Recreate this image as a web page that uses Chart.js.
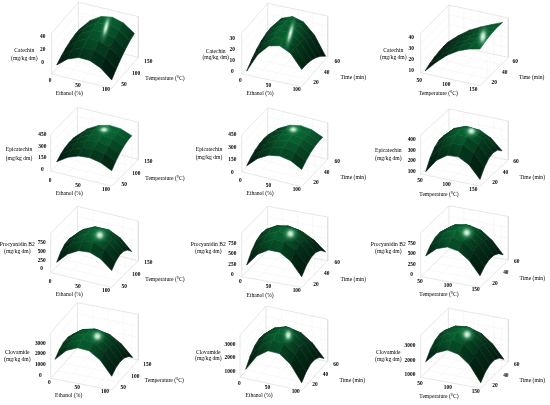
<!DOCTYPE html>
<html>
<head>
<meta charset="utf-8">
<title>Response surfaces</title>
<script src="https://cdn.jsdelivr.net/npm/chart.js@4"></script>
<style>
    html, body { margin: 0; padding: 0; background: #fff; }
    canvas { display: block; filter: blur(0.45px); }
</style>
</head>
<body>
<canvas id="chart" width="550" height="405"></canvas>
<script>
// Rows run front to back along the second factor, columns left to right along the first one.
const catechinEthanolTemp = [
    [-2.4, 11.1, 17.5, 16.9, 9.2, -5.5],
    [3.2, 17.6, 24.8, 24.9, 17.8, 3.5],
    [7.4, 22.7, 30.7, 31.5, 25, 11.2],
    [10.4, 26.6, 35.4, 36.8, 30.8, 17.5],
    [12, 29.1, 38.7, 40.8, 35.4, 22.6],
    [12.2, 30.2, 40.6, 43.4, 38.6, 26.2],
];
const catechinEthanolTime = [
    [1.5, 18.7, 28.6, 31, 26, 13.6],
    [6.6, 22.6, 31.2, 32.6, 26.6, 13.3],
    [10.7, 25.3, 32.8, 33, 26.1, 11.9],
    [13.5, 26.9, 33.1, 32.3, 24.3, 9.3],
    [15.2, 27.2, 32.3, 30.3, 21.4, 5.5],
    [15.7, 26.5, 30.3, 27.3, 17.4, 0.6],
];
const catechinTempTime = [
    [10.9, 20.9, 29.6, 35.7, 39.6, 41.8],
    [13.2, 22.9, 31.2, 37.1, 41.1, 43.7],
    [14.8, 24.2, 32.2, 37.9, 41.9, 44.9],
    [15.8, 24.9, 32.6, 38.1, 42.3, 45.7],
    [16.4, 25.2, 32.6, 37.9, 42.1, 45.9],
    [16.3, 24.8, 31.8, 36.9, 41.2, 45.4],
];
const epicatechinEthanolTemp = [
    [119, 212, 265, 277, 248, 178],
    [163, 262, 321, 337, 312, 245],
    [193, 298, 362, 384, 362, 299],
    [208, 321, 390, 416, 399, 338],
    [210, 329, 403, 435, 421, 364],
    [198, 323, 403, 439, 429, 375],
];
const epicatechinEthanolTime = [
    [98, 217, 289, 312, 289, 217],
    [144, 261, 333, 356, 335, 266],
    [177, 293, 364, 389, 369, 303],
    [198, 312, 383, 408, 390, 326],
    [205, 318, 388, 415, 398, 337],
    [201, 312, 382, 409, 394, 336],
];
const epicatechinTempTime = [
    [109, 238, 306, 312, 257, 140],
    [201, 320, 382, 385, 330, 217],
    [262, 372, 427, 426, 372, 263],
    [292, 393, 441, 438, 384, 278],
    [293, 385, 426, 419, 366, 264],
    [263, 345, 380, 370, 317, 219],
];
const procyanidinEthanolTemp = [
    [233, 550, 723, 751, 636, 377],
    [416, 727, 894, 917, 794, 525],
    [521, 826, 987, 1004, 874, 595],
    [549, 849, 1005, 1016, 877, 590],
    [502, 796, 946, 951, 805, 508],
    [377, 665, 809, 809, 655, 348],
];
const procyanidinEthanolTime = [
    [259, 559, 709, 701, 536, 212],
    [466, 725, 848, 829, 669, 366],
    [598, 815, 912, 882, 726, 443],
    [653, 830, 899, 858, 707, 445],
    [633, 768, 811, 759, 612, 370],
    [536, 630, 646, 583, 441, 220],
];
const procyanidinTempTime = [
    [467, 690, 777, 730, 547, 228],
    [610, 820, 898, 847, 663, 349],
    [690, 887, 956, 902, 716, 406],
    [706, 891, 949, 892, 704, 400],
    [658, 830, 879, 819, 629, 329],
    [547, 706, 746, 682, 491, 196],
];
const clovamideEthanolTemp = [
    [1592, 2612, 3075, 2983, 2303, 1036],
    [2046, 2985, 3393, 3276, 2602, 1378],
    [2282, 3141, 3493, 3352, 2684, 1503],
    [2301, 3080, 3376, 3209, 2548, 1411],
    [2101, 2800, 3040, 2849, 2194, 1100],
    [1685, 2303, 2488, 2272, 1623, 572],
];
const clovamideEthanolTime = [
    [1263, 2405, 2964, 2940, 2332, 1166],
    [1858, 2879, 3365, 3307, 2709, 1591],
    [2237, 3136, 3549, 3457, 2869, 1799],
    [2397, 3175, 3515, 3389, 2810, 1790],
    [2340, 2996, 3263, 3103, 2534, 1562],
    [2065, 2600, 2794, 2600, 2041, 1117],
];
const clovamideTempTime = [
    [1968, 2717, 3035, 2876, 2286, 1219],
    [2498, 3169, 3433, 3256, 2670, 1640],
    [2824, 3419, 3628, 3433, 2851, 1857],
    [2947, 3464, 3619, 3405, 2829, 1871],
    [2865, 3306, 3406, 3174, 2602, 1680],
    [2581, 2944, 2990, 2740, 2172, 1287],
];

const ethanolTicks = [0, 50, 100];
const temperatureTicks = [50, 100, 150];
const timeTicks = [20, 40, 60];
const catechinTicks = [0, 20, 40];
const catechinTimeTicks = [0, 10, 20, 30];
const catechinTempTicks = [10, 20, 30, 40];
const epicatechinTicks = [0, 150, 300, 450];
const epicatechinTempTicks = [100, 200, 300, 400];
const procyanidinTicks = [0, 250, 500, 750];
const clovamideTicks = [0, 1000, 2000, 3000];
const clovamideHighTicks = [1000, 2000, 3000];

const ethanolTitle = 'Ethanol (%)';
const temperatureTitle = 'Temperature (°C)';
const timeTitle = 'Time (min)';
const doseUnit = '(mg/kg dm)';

// Layout of the twelve panels: o/ex/ey/top are the box on the page, k is px per unit, zBase the value on the floor.
const panels = [
    { grid: catechinEthanolTemp, o: [51.7, 74], ex: [60, 14.3], ey: [26.7, -31], top: 33.3, k: 0.64, zBase: -18.3, u0: 0.083, vMax: 0.85,
      zTicks: catechinTicks, zTickX: 42.7, glow: [0.6, 0.72, 5, 19, 0.25],
      xTicks: ethanolTicks, xFrom: [50, 81], xTo: [106, 89.3], xTitle: ethanolTitle, xTitleAt: [69.3, 93.7],
      yTicks: temperatureTicks, yFrom: [124, 85], yTo: [148.3, 62], yTitle: temperatureTitle, yTitleAt: [165, 78.3],
      zTitle: ['Catechin', doseUnit], zTitleAt: [24.3, 51, 58.3] },
    { grid: catechinEthanolTime, o: [241.7, 74], ex: [60, 12.7], ey: [26, -30], top: 33.3, k: 1.1, zBase: -2.1, u0: 0.083, vMax: 0.92,
      zTicks: catechinTimeTicks, zTickX: 232.3, glow: [0.62, 0.4, 4.5, 21, 0.25],
      xTicks: ethanolTicks, xFrom: [240.3, 80.7], xTo: [296.7, 90], xTitle: ethanolTitle, xTitleAt: [260, 94],
      yTicks: timeTicks, yFrom: [316, 83], yTo: [337.3, 62], yTitle: timeTitle, yTitleAt: [353.3, 77.7],
      zTitle: ['Catechin', doseUnit], zTitleAt: [215.7, 51.7, 58] },
    { grid: catechinTempTime, o: [420.7, 72.7], ex: [59.3, 13], ey: [28.3, -28.3], top: 33.3, k: 1.1, zBase: 8.45, u0: 0.073, vMax: 0.8,
      zTicks: catechinTempTicks, zTickX: 411.3, glow: [0.88, 0.42, 7, 14, 0.15],
      xTicks: temperatureTicks, xFrom: [419.3, 80.7], xTo: [473.3, 89.3], xTitle: temperatureTitle, xTitleAt: [438.3, 94],
      yTicks: timeTicks, yFrom: [494.3, 83], yTo: [515.3, 62], yTitle: timeTitle, yTitleAt: [531.7, 77.7],
      zTitle: ['Catechin', doseUnit], zTitleAt: [393.3, 51, 58] },
    { grid: epicatechinEthanolTemp, o: [50.7, 171], ex: [61, 15], ey: [26.7, -26.7], top: 134, k: 0.0763, zBase: -22, u0: 0.098, vMax: 0.75,
      zTicks: epicatechinTicks, zTickX: 42.3, glow: [0.57, 0.8, 9, 6, 0],
      xTicks: ethanolTicks, xFrom: [50, 181], xTo: [106, 189.3], xTitle: ethanolTitle, xTitleAt: [69.3, 194],
      yTicks: temperatureTicks, yFrom: [124.3, 185], yTo: [148.3, 162], yTitle: temperatureTitle, yTitleAt: [165, 178.3],
      zTitle: ['Epicatechin', doseUnit], zTitleAt: [19, 150, 158.3] },
    { grid: epicatechinEthanolTime, o: [241.7, 171.7], ex: [60, 15], ey: [26, -27.3], top: 135, k: 0.084, zBase: 11.9, u0: 0.083, vMax: 0.81,
      zTicks: epicatechinTicks, zTickX: 232.3, glow: [0.54, 0.8, 9, 6.5, 0],
      xTicks: ethanolTicks, xFrom: [240.3, 180.7], xTo: [296.7, 190], xTitle: ethanolTitle, xTitleAt: [260, 194],
      yTicks: timeTicks, yFrom: [316, 183], yTo: [337.3, 162], yTitle: timeTitle, yTitleAt: [353.3, 177.7],
      zTitle: ['Epicatechin', doseUnit], zTitleAt: [209, 150, 157.7] },
    { grid: epicatechinTempTime, o: [420.7, 174], ex: [59.3, 12], ey: [28.3, -26], top: 135, k: 0.1057, zBase: 78, u0: 0.084, vMax: 0.78,
      zTicks: epicatechinTempTicks, zTickX: 411.7, glow: [0.59, 0.62, 9, 8, 0],
      xTicks: temperatureTicks, xFrom: [420, 180.7], xTo: [473.3, 189.3], xTitle: temperatureTitle, xTitleAt: [439, 194.3],
      yTicks: timeTicks, yFrom: [495, 183], yTo: [516, 162], yTitle: timeTitle, yTitleAt: [532.3, 178],
      zTitle: ['Epicatechin', doseUnit], zTitleAt: [388.3, 150.7, 158.3] },
    { grid: procyanidinEthanolTemp, o: [50.7, 272.7], ex: [61, 14.7], ey: [26.7, -26.7], top: 233, k: 0.0347, zBase: -107, u0: 0.098, vMax: 0.75,
      zTicks: procyanidinTicks, zTickX: 41.7, glow: [0.62, 0.45, 9, 9, 0],
      xTicks: ethanolTicks, xFrom: [50, 281.7], xTo: [106, 290.7], xTitle: ethanolTitle, xTitleAt: [69.3, 295],
      yTicks: temperatureTicks, yFrom: [124.3, 286.7], yTo: [148.3, 262.7], yTitle: temperatureTitle, yTitleAt: [165, 280],
      zTitle: ['Procyanidin B2', doseUnit], zTitleAt: [17.3, 245, 251.7] },
    { grid: procyanidinEthanolTime, o: [241.7, 276.7], ex: [60, 10.7], ey: [26, -26.7], top: 233, k: 0.0422, zBase: -40, u0: 0.083, vMax: 0.92,
      zTicks: procyanidinTicks, zTickX: 232.3, glow: [0.6, 0.45, 9, 9, 0],
      xTicks: ethanolTicks, xFrom: [240.3, 281.7], xTo: [296.7, 290.7], xTitle: ethanolTitle, xTitleAt: [260, 295.3],
      yTicks: timeTicks, yFrom: [316, 284.3], yTo: [337.3, 262.3], yTitle: timeTitle, yTitleAt: [353.3, 280],
      zTitle: ['Procyanidin B2', doseUnit], zTitleAt: [208.3, 244.7, 251.7] },
    { grid: procyanidinTempTime, o: [420.7, 276.7], ex: [59.3, 10.7], ey: [28.3, -27.3], top: 233, k: 0.0419, zBase: -48, u0: 0.084, vMax: 0.82,
      zTicks: procyanidinTicks, zTickX: 411.7, glow: [0.56, 0.46, 9, 9, 0],
      xTicks: temperatureTicks, xFrom: [420, 281.3], xTo: [475.7, 290], xTitle: temperatureTitle, xTitleAt: [439, 294.3],
      yTicks: timeTicks, yFrom: [495, 284], yTo: [516.7, 262], yTitle: timeTitle, yTitleAt: [532.3, 279],
      zTitle: ['Procyanidin B2', doseUnit], zTitleAt: [388.3, 245, 251.7] },
    { grid: clovamideEthanolTemp, o: [50.7, 378.3], ex: [61, 11.7], ey: [26.7, -30], top: 332.7, k: 0.0108, zBase: -241, u0: 0.071, vMax: 0.79,
      zTicks: clovamideTicks, zTickX: 40.3, glow: [0.58, 0.45, 9, 9, 0],
      xTicks: ethanolTicks, xFrom: [49.3, 382.7], xTo: [105, 391.7], xTitle: ethanolTitle, xTitleAt: [68.7, 396],
      yTicks: temperatureTicks, yFrom: [123.3, 388], yTo: [147.3, 364.7], yTitle: temperatureTitle, yTitleAt: [164.3, 381],
      zTitle: ['Clovamide', doseUnit], zTitleAt: [17.3, 352.7, 359.3] },
    { grid: clovamideEthanolTime, o: [240, 377.3], ex: [61.7, 13.3], ey: [26, -29], top: 335, k: 0.0137, zBase: 591, u0: 0.092, vMax: 0.86,
      zTicks: clovamideHighTicks, zTickX: 230, glow: [0.58, 0.45, 7, 10, 0],
      xTicks: ethanolTicks, xFrom: [239.3, 383.3], xTo: [295.7, 391.7], xTitle: ethanolTitle, xTitleAt: [259, 396],
      yTicks: timeTicks, yFrom: [315, 385], yTo: [336, 365], yTitle: timeTitle, yTitleAt: [352.3, 380.3],
      zTitle: ['Clovamide', doseUnit], zTitleAt: [208.3, 352.7, 359] },
    { grid: clovamideTempTime, o: [420.7, 377.3], ex: [60, 11], ey: [27.7, -26.7], top: 335, k: 0.01467, zBase: 843, u0: 0.083, vMax: 0.84,
      zTicks: clovamideHighTicks, zTickX: 410, glow: [0.55, 0.48, 9, 9, 0],
      xTicks: temperatureTicks, xFrom: [420, 383.3], xTo: [475.7, 391.7], xTitle: temperatureTitle, xTitleAt: [439, 396.7],
      yTicks: timeTicks, yFrom: [495, 385.7], yTo: [516.7, 365], yTitle: timeTitle, yTitleAt: [532.3, 380.7],
      zTitle: ['Clovamide', doseUnit], zTitleAt: [388.3, 352.7, 359.3] },
];

const BOX_COLOR = '#dcdcdc';
const GRID_COLOR = '#f4f4f4';
const TEXT_COLOR = '#000000';
const FONT = '"Liberation Serif", serif';
const DARK = [1, 24, 13];
const GREEN = [10, 108, 55];

function project(p, u, v, z) {
    return {
        x: p.o[0] + u * p.ex[0] + v * p.ey[0],
        y: p.o[1] + u * p.ex[1] + v * p.ey[1] - (z - p.zBase) * p.k,
    };
}

function surfacePoint(p, i, j) {
    const last = p.grid.length - 1;
    const u = p.u0 + (1 - p.u0) * (i / last);
    const v = p.vMax * (j / last);
    return project(p, u, v, p.grid[j][i]);
}

// Value under fractional grid position, used only to sit the highlight on the surface.
function surfaceAt(p, s, t) {
    const last = p.grid.length - 1;
    const i = Math.min(Math.floor(s * last), last - 1);
    const j = Math.min(Math.floor(t * last), last - 1);
    const a = s * last - i;
    const b = t * last - j;
    const z = (1 - b) * ((1 - a) * p.grid[j][i] + a * p.grid[j][i + 1])
        + b * ((1 - a) * p.grid[j + 1][i] + a * p.grid[j + 1][i + 1]);
    return project(p, p.u0 + (1 - p.u0) * s, p.vMax * t, z);
}

// Brightness from slope and height at a grid vertex: the crest is green, low and steep parts fall towards black.
function vertexColor(p, i, j) {
    const n = p.grid.length - 1;
    const i0 = Math.max(i - 1, 0);
    const i1 = Math.min(i + 1, n);
    const j0 = Math.max(j - 1, 0);
    const j1 = Math.min(j + 1, n);
    const cell = 11;
    const gu = (p.grid[j][i1] - p.grid[j][i0]) * p.k / ((i1 - i0) * cell);
    const gv = (p.grid[j1][i] - p.grid[j0][i]) * p.k / ((j1 - j0) * cell);
    const slope = Math.exp(-(gu * gu + (gv - 0.1) * (gv - 0.1)) * 1.8);
    const all = p.grid.reduce(function (acc, row) { return acc.concat(row); }, []);
    const low = Math.min.apply(null, all);
    const high = Math.max.apply(null, all);
    const frac = (p.grid[j][i] - low) / (high - low);
    const b = Math.pow(frac, 1.4) * (0.4 + 0.6 * slope);
    const mix = DARK.map(function (c, idx) {
        return Math.round(c + (GREEN[idx] - c) * b);
    });
    return 'rgb(' + mix.join(',') + ')';
}

function lineDataset(points, color, width) {
    return {
        type: 'line',
        data: points,
        borderColor: color,
        borderWidth: width,
        pointRadius: 0,
        fill: false,
        tension: 0,
    };
}

function boxDatasets(p) {
    const out = [];
    const floor = function (u, v) { return project(p, u, v, p.zBase); };
    const height = p.o[1] - p.top;
    const lift = function (pt, f) { return { x: pt.x, y: pt.y - height * f }; };
    const o = floor(0, 0);
    const x = floor(1, 0);
    const b = floor(1, 1);
    const l = floor(0, 1);
    // floor and wall grid
    [0.25, 0.5, 0.75].forEach(function (f) {
        out.push(lineDataset([floor(f, 0), floor(f, 1), lift(floor(f, 1), 1)], GRID_COLOR, 0.6));
        out.push(lineDataset([floor(0, f), floor(1, f), lift(floor(1, f), 1)], GRID_COLOR, 0.6));
        out.push(lineDataset([lift(o, f), lift(l, f), lift(b, f)], GRID_COLOR, 0.6));
    });
    out.push(lineDataset([o, x, b, l, o], BOX_COLOR, 0.7));
    out.push(lineDataset([o, lift(o, 1), lift(l, 1), lift(b, 1), b], BOX_COLOR, 0.7));
    out.push(lineDataset([l, lift(l, 1)], BOX_COLOR, 0.7));
    return out;
}

function surfaceDatasets(p, ctx) {
    const out = [];
    const n = p.grid.length - 1;
    // back rows first and left to right, the camera looks from the front right corner
    for (let j = n - 1; j >= 0; j--) {
        for (let i = 0; i < n; i++) {
            const a = surfacePoint(p, i, j);
            const b = surfacePoint(p, i + 1, j);
            const c = surfacePoint(p, i + 1, j + 1);
            const d = surfacePoint(p, i, j + 1);
            const grad = ctx.createLinearGradient(a.x, a.y, c.x, c.y);
            grad.addColorStop(0, vertexColor(p, i, j));
            grad.addColorStop(1, vertexColor(p, i + 1, j + 1));
            out.push({
                type: 'line',
                data: [a, b, c, d, a],
                borderColor: grad,
                borderWidth: 0.6,
                backgroundColor: grad,
                pointRadius: 0,
                fill: 'shape',
                tension: 0,
            });
        }
    }
    return out;
}

const panelTextPlugin = {
    id: 'panelText',
    afterDatasetsDraw: function (chart) {
        const ctx = chart.ctx;
        const xs = chart.scales.x;
        const ys = chart.scales.y;
        const n = panels[0].grid.length - 1;
        panels.forEach(function (p) {
            // specular spot, kept inside the outline of the surface
            const clip = new Path2D();
            for (let j = 0; j < n; j++) {
                for (let i = 0; i < n; i++) {
                    const q = [surfacePoint(p, i, j), surfacePoint(p, i + 1, j), surfacePoint(p, i + 1, j + 1), surfacePoint(p, i, j + 1)];
                    clip.moveTo(xs.getPixelForValue(q[0].x), ys.getPixelForValue(q[0].y));
                    q.slice(1).forEach(function (pt) {
                        clip.lineTo(xs.getPixelForValue(pt.x), ys.getPixelForValue(pt.y));
                    });
                    clip.closePath();
                }
            }
            const spot = surfaceAt(p, p.glow[0], p.glow[1]);
            ctx.save();
            ctx.clip(clip, 'nonzero');
            ctx.translate(xs.getPixelForValue(spot.x), ys.getPixelForValue(spot.y));
            ctx.rotate(p.glow[4]);
            ctx.scale(p.glow[2], p.glow[3]);
            const g = ctx.createRadialGradient(0, 0, 0, 0, 0, 1);
            g.addColorStop(0, 'rgba(255,255,255,0.95)');
            g.addColorStop(0.25, 'rgba(205,240,218,0.8)');
            g.addColorStop(0.55, 'rgba(70,165,110,0.45)');
            g.addColorStop(1, 'rgba(20,120,65,0)');
            ctx.fillStyle = g;
            ctx.beginPath();
            ctx.arc(0, 0, 1, 0, Math.PI * 2);
            ctx.fill();
            ctx.restore();
        });

        ctx.save();
        ctx.fillStyle = TEXT_COLOR;
        ctx.textAlign = 'center';
        ctx.textBaseline = 'middle';
        ctx.font = 'bold 5.4px ' + FONT;
        panels.forEach(function (p) {
            p.zTicks.forEach(function (t) {
                ctx.fillText(String(t), xs.getPixelForValue(p.zTickX), ys.getPixelForValue(project(p, 0, 0, t).y));
            });
            [[p.xTicks, p.xFrom, p.xTo], [p.yTicks, p.yFrom, p.yTo]].forEach(function (axis) {
                axis[0].forEach(function (t, idx) {
                    const f = idx / (axis[0].length - 1);
                    const px = axis[1][0] + (axis[2][0] - axis[1][0]) * f;
                    const py = axis[1][1] + (axis[2][1] - axis[1][1]) * f;
                    ctx.fillText(String(t), xs.getPixelForValue(px), ys.getPixelForValue(py));
                });
            });
        });
        ctx.font = '5.6px ' + FONT;
        panels.forEach(function (p) {
            ctx.fillText(p.xTitle, xs.getPixelForValue(p.xTitleAt[0]), ys.getPixelForValue(p.xTitleAt[1]));
            ctx.fillText(p.yTitle, xs.getPixelForValue(p.yTitleAt[0]), ys.getPixelForValue(p.yTitleAt[1]));
            ctx.fillText(p.zTitle[0], xs.getPixelForValue(p.zTitleAt[0]), ys.getPixelForValue(p.zTitleAt[1]));
            ctx.fillText(p.zTitle[1], xs.getPixelForValue(p.zTitleAt[0]), ys.getPixelForValue(p.zTitleAt[2]));
        });
        ctx.restore();
    },
};

const canvas = document.getElementById('chart');
const ctx2d = canvas.getContext('2d');
const datasets = [];
panels.forEach(function (p) {
    boxDatasets(p).concat(surfaceDatasets(p, ctx2d)).forEach(function (d) {
        // later entries have to land on top
        d.order = -datasets.length;
        datasets.push(d);
    });
});

new Chart(canvas, {
    type: 'scatter',
    data: { datasets: datasets },
    plugins: [panelTextPlugin],
    options: {
        responsive: false,
        animation: false,
        layout: { padding: 0 },
        events: [],
        plugins: { legend: { display: false }, tooltip: { enabled: false }, title: { display: false } },
        scales: {
            x: { type: 'linear', min: 0, max: 550, display: false },
            y: { type: 'linear', min: 0, max: 405, reverse: true, display: false },
        },
    },
});
</script>
</body>
</html>
